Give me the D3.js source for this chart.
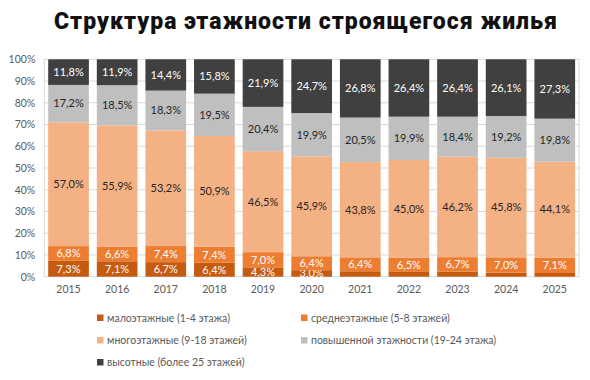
<!DOCTYPE html>
<html><head><meta charset="utf-8">
<script src="https://cdn.jsdelivr.net/npm/d3@7"></script>
<style>body{margin:0;background:#fff}svg{display:block}</style>
</head><body>
<svg id="c" width="590" height="380"></svg>
<script>
const years = ["2015","2016","2017","2018","2019","2020","2021","2022","2023","2024","2025"];
const lowRise   = [7.3,7.1,6.7,6.4,4.3,3.0,2.5,2.2,2.3,1.9,1.7];
const midRise   = [6.8,6.6,7.4,7.4,7.0,6.4,6.4,6.5,6.7,7.0,7.1];
const multiRise = [57.0,55.9,53.2,50.9,46.5,45.9,43.8,45.0,46.2,45.8,44.1];
const elevated  = [17.2,18.5,18.3,19.5,20.4,19.9,20.5,19.9,18.4,19.2,19.8];
const highRise  = [11.8,11.9,14.4,15.8,21.9,24.7,26.8,26.4,26.4,26.1,27.3];
const seriesNames = ["малоэтажные (1-4 этажа)","среднеэтажные (5-8 этажей)","многоэтажные (9-18 этажей)","повышенной этажности (19-24 этажа)","высотные (более 25 этажей)"];
const yTicks = [0,10,20,30,40,50,60,70,80,90,100];

const colors = ["#c55a11","#ed7d31","#f4b183","#bfbfbf","#404040"];
const labelColors = ["#ffffff","#ffffff","#262626","#262626","#ffffff"];
const keys = ["s0","s1","s2","s3","s4"];
const seriesData = [lowRise, midRise, multiRise, elevated, highRise];
const table = years.map((y,i)=>{const o={year:y}; keys.forEach((k,j)=>o[k]=seriesData[j][i]); return o;});

const svg = d3.select("#c");
const font = "Lato, 'Open Sans', sans-serif";

svg.append("text").attr("x",306).attr("y",29).attr("text-anchor","middle")
  .style("font-family","Roboto, sans-serif").style("font-weight","900").style("font-size","23px")
  .style("letter-spacing","1px")
  .attr("fill","#111").text("Структура этажности строящегося жилья");

const x = d3.scaleBand().domain(years).range([44.3,579]).paddingInner(0.163).paddingOuter(0.08);
const y = d3.scaleLinear().domain([0,100]).range([276.7,59.3]);

// gridlines
svg.append("g").selectAll("line").data(yTicks).join("line")
  .attr("x1",44.3).attr("x2",579).attr("y1",d=>y(d)).attr("y2",d=>y(d))
  .attr("stroke","#d9d9d9").attr("stroke-width",1);
svg.append("line").attr("x1",579).attr("x2",579).attr("y1",y(100)).attr("y2",y(0)).attr("stroke","#d9d9d9");
svg.append("line").attr("x1",44.3).attr("x2",44.3).attr("y1",y(100)).attr("y2",y(0)).attr("stroke","#d9d9d9");

const yAxis = d3.axisLeft(y).tickValues(yTicks).tickFormat(d=>d+"%").tickSize(0).tickPadding(9);
const ya = svg.append("g").attr("transform","translate(44.3,0)").call(yAxis);
ya.select(".domain").remove();
ya.selectAll("text").style("font-family",font).style("font-size","10.5px").attr("fill","#595959");

const xAxis = d3.axisBottom(x).tickSize(0).tickPadding(9);
const xa = svg.append("g").attr("transform","translate(0,"+y(0)+")").call(xAxis);
xa.select(".domain").remove();
xa.selectAll("text").style("font-family",font).style("font-size","10.5px").attr("fill","#595959");

const stack = d3.stack().keys(keys).offset(d3.stackOffsetExpand);
const stacked = stack(table);

const fmt = v => d3.format(".1f")(v).replace(".",",")+"%";

stacked.forEach((s,j)=>{
  const g = svg.append("g");
  g.selectAll("rect").data(s).join("rect")
    .attr("x",d=>x(d.data.year)).attr("width",x.bandwidth())
    .attr("y",d=>y(d[1]*100)).attr("height",d=>y(d[0]*100)-y(d[1]*100))
    .attr("fill",colors[j]);
  g.selectAll("text").data(s.filter(d=>d.data[keys[j]]>=2.9)).join("text")
    .attr("x",d=>x(d.data.year)+x.bandwidth()/2)
    .attr("y",d=>y((d[0]+d[1])/2*100))
    .attr("dy","0.35em").attr("text-anchor","middle")
    .style("font-family",font).style("font-size","11px")
    .attr("fill",labelColors[j]).text(d=>fmt(d.data[keys[j]]));
});

// legend
const legPos = [[97,318],[301,318],[97,340.5],[301,340.5],[97,362.5]];
const lg = svg.append("g");
seriesNames.forEach((n,i)=>{
  const [lx,ly] = legPos[i];
  lg.append("rect").attr("x",lx).attr("y",ly-3.5).attr("width",6.5).attr("height",6.5).attr("fill",colors[i]);
  lg.append("text").attr("x",lx+10).attr("y",ly).attr("dy","0.35em")
    .style("font-family",font).style("font-size","10.5px").attr("fill","#595959").text(n);
});
</script>
</body></html>
